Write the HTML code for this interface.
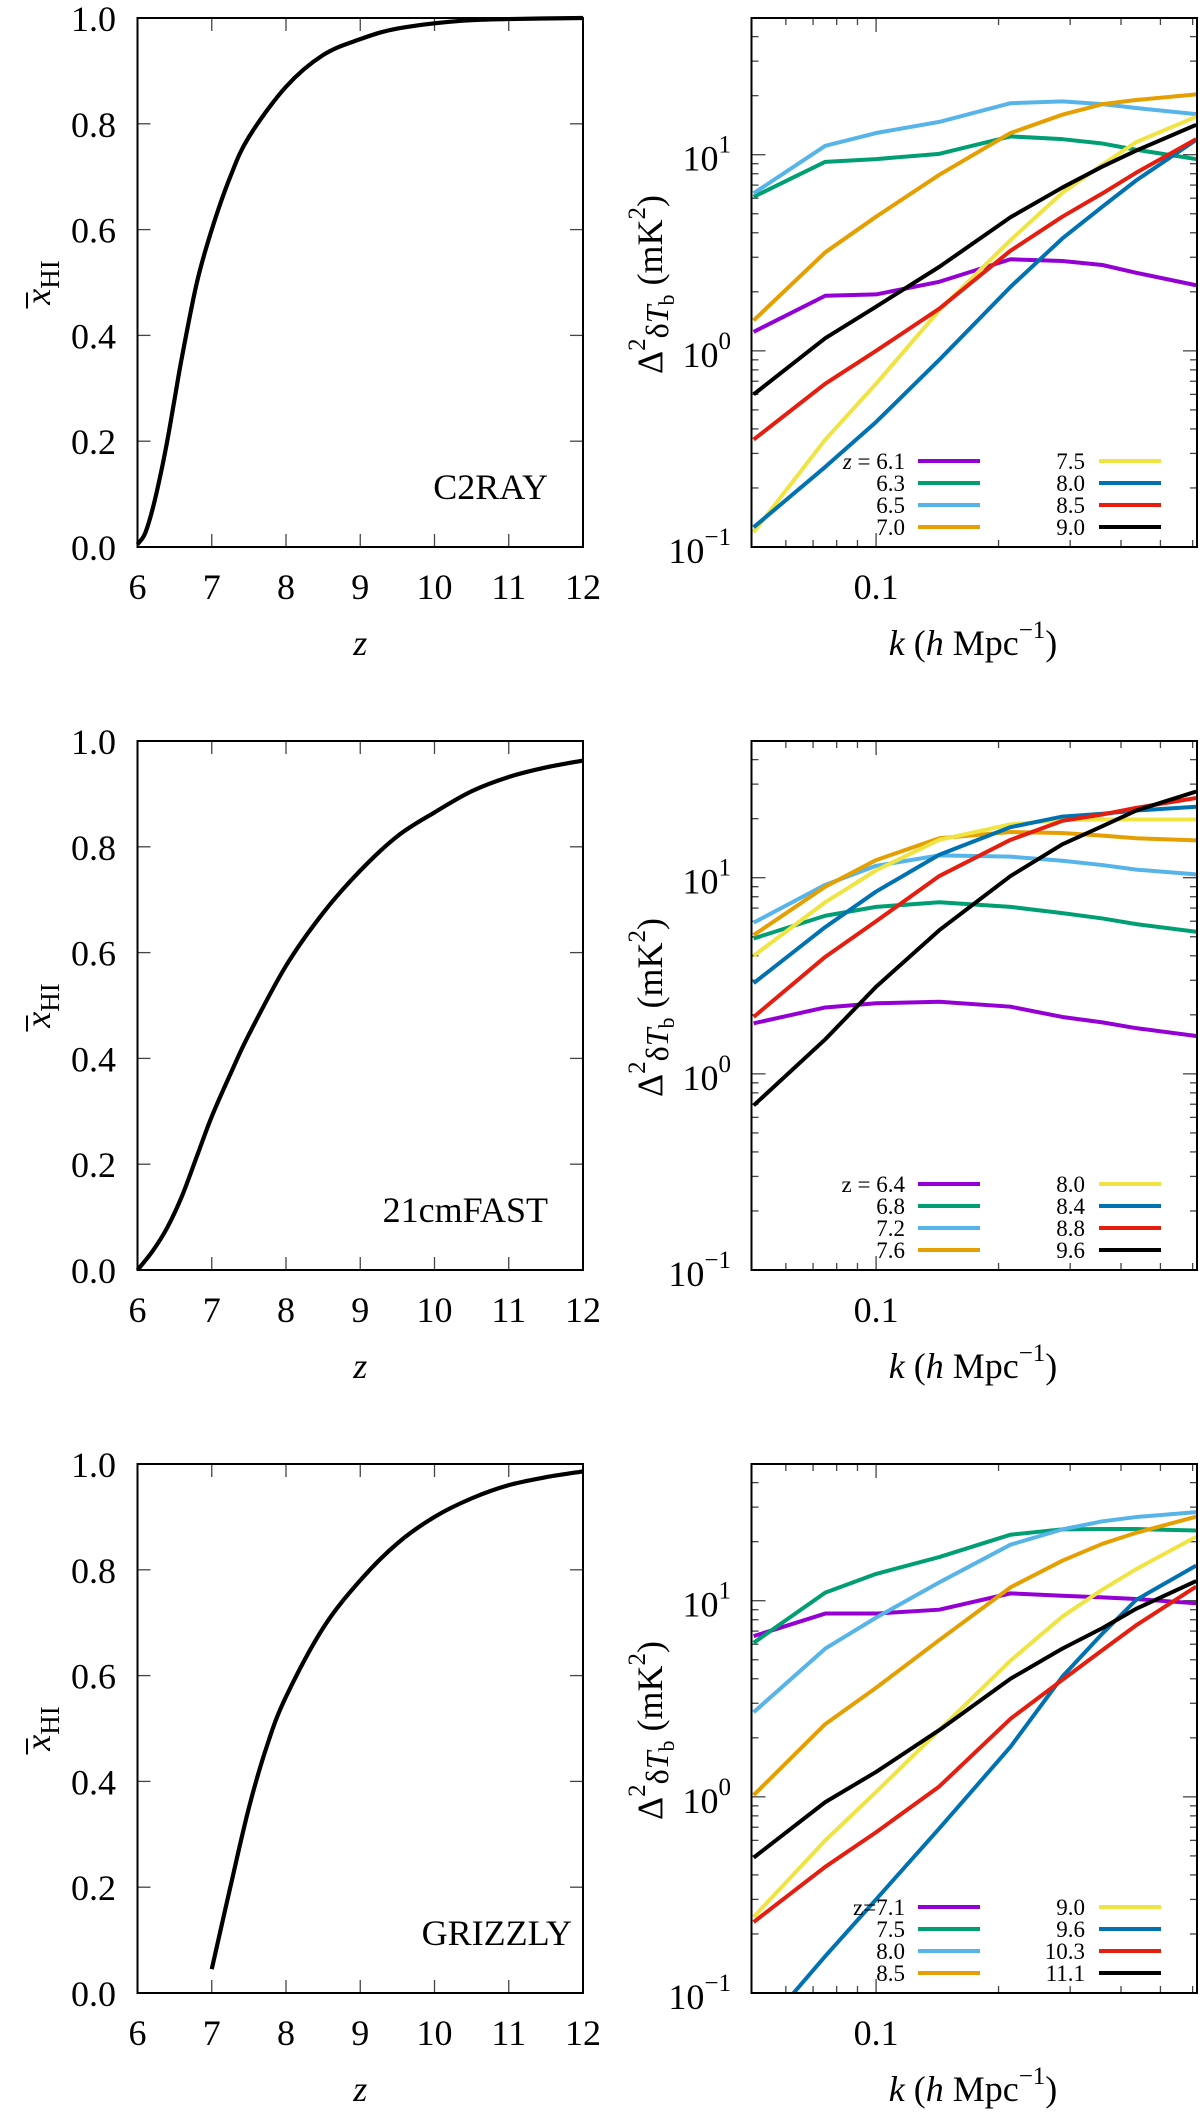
<!DOCTYPE html>
<html><head><meta charset="utf-8"><title>Reionization history and 21-cm power spectra</title>
<style>
html,body{margin:0;padding:0;background:#fff;}
svg{display:block;font-family:"Liberation Serif","DejaVu Serif",serif;}
</style></head>
<body>
<svg id="fig" width="1200" height="2114" viewBox="0 0 1200 2114" xmlns="http://www.w3.org/2000/svg">
<defs>
<clipPath id="clipR0"><rect x="751.5" y="18" width="445.5" height="529"/></clipPath>
<clipPath id="clipR1"><rect x="751.5" y="741" width="445.5" height="529"/></clipPath>
<clipPath id="clipR2"><rect x="751.5" y="1464" width="445.5" height="529"/></clipPath>
</defs>
</svg>
<script>
// ---------- data ----------
const zC2RAY = [6.0, 6.1, 6.2, 6.3, 6.4, 6.5, 6.6, 6.8, 7.0, 7.25, 7.5, 8.0, 8.5, 9.0, 9.5, 10.3, 11.0, 12.0];
const xC2RAY = [0.005, 0.025, 0.07, 0.13, 0.2, 0.28, 0.36, 0.5, 0.6, 0.7, 0.775, 0.87, 0.93, 0.96, 0.98, 0.994, 0.998, 1.0];
const z21cm = [6.0, 6.2, 6.4, 6.6, 6.8, 7.0, 7.25, 7.5, 8.0, 8.5, 9.0, 9.5, 10.0, 10.5, 11.0, 11.5, 12.0];
const x21cm = [0.0, 0.035, 0.08, 0.14, 0.215, 0.29, 0.37, 0.445, 0.575, 0.675, 0.755, 0.82, 0.865, 0.905, 0.932, 0.95, 0.963];
const zGRIZ = [7.0, 7.25, 7.5, 7.75, 8.0, 8.5, 9.0, 9.5, 10.0, 10.5, 11.0, 11.5, 12.0];
const xGRIZ = [0.045, 0.2, 0.35, 0.47, 0.56, 0.69, 0.78, 0.85, 0.9, 0.935, 0.96, 0.975, 0.986];

const kBins = [0.05, 0.075, 0.1, 0.143, 0.214, 0.287, 0.36, 0.436, 0.612];
const seriesColors = ["#9400d3", "#009e73", "#56b4e9", "#e69f00", "#f0e442", "#0072b2", "#e51e10", "#000000"];

const labelsC2RAY = ["6.1", "6.3", "6.5", "7.0", "7.5", "8.0", "8.5", "9.0"];
const psC2RAY_61 = [1.25, 1.91, 1.94, 2.25, 2.93, 2.87, 2.74, 2.5, 2.16];
const psC2RAY_63 = [6.1, 9.2, 9.5, 10.1, 12.4, 12.0, 11.4, 10.6, 9.5];
const psC2RAY_65 = [6.36, 11.1, 12.9, 14.7, 18.3, 18.7, 18.1, 17.3, 16.1];
const psC2RAY_70 = [1.43, 3.18, 4.83, 7.9, 12.9, 16.0, 18.1, 19.0, 20.3];
const psC2RAY_75 = [0.119, 0.353, 0.68, 1.61, 3.67, 6.4, 8.9, 11.6, 15.6];
const psC2RAY_80 = [0.126, 0.256, 0.434, 0.90, 2.12, 3.74, 5.43, 7.4, 11.9];
const psC2RAY_85 = [0.353, 0.68, 1.0, 1.64, 3.24, 4.83, 6.35, 8.1, 12.0];
const psC2RAY_90 = [0.60, 1.16, 1.68, 2.68, 4.8, 6.8, 8.7, 10.5, 14.2];

const labels21cm = ["6.4", "6.8", "7.2", "7.6", "8.0", "8.4", "8.8", "9.6"];
const ps21cm_64 = [1.81, 2.18, 2.29, 2.33, 2.2, 1.95, 1.83, 1.71, 1.56];
const ps21cm_68 = [4.9, 6.4, 7.1, 7.5, 7.1, 6.6, 6.2, 5.8, 5.3];
const ps21cm_72 = [5.9, 9.2, 11.5, 13.0, 12.8, 12.2, 11.6, 11.0, 10.4];
const ps21cm_76 = [5.1, 9.0, 12.3, 15.9, 17.1, 16.9, 16.4, 15.9, 15.5];
const ps21cm_80 = [4.0, 7.5, 10.9, 15.6, 18.7, 19.7, 19.8, 19.8, 19.8];
const ps21cm_84 = [2.9, 5.6, 8.5, 13.1, 18.1, 20.5, 21.2, 22.0, 23.0];
const ps21cm_88 = [1.95, 3.95, 6.0, 10.2, 15.6, 19.5, 21.0, 22.7, 25.5];
const ps21cm_96 = [0.69, 1.5, 2.78, 5.4, 10.2, 14.8, 18.3, 22.0, 27.5];

const labelsGRIZ = ["7.1", "7.5", "8.0", "8.5", "9.0", "9.6", "10.3", "11.1"];
const psGRIZ_71 = [6.6, 8.6, 8.6, 9.0, 10.9, 10.6, 10.4, 10.2, 9.7];
const psGRIZ_75 = [6.1, 11.0, 13.7, 16.7, 21.7, 23.1, 23.2, 23.2, 22.8];
const psGRIZ_80 = [2.7, 5.7, 8.2, 12.4, 19.3, 23.1, 25.4, 26.7, 28.3];
const psGRIZ_85 = [1.02, 2.35, 3.6, 6.3, 11.7, 16.0, 19.5, 22.2, 26.8];
const psGRIZ_90 = [0.244, 0.60, 1.06, 2.19, 4.95, 8.3, 11.4, 14.5, 21.2];
const psGRIZ_96 = [0.058, 0.154, 0.30, 0.69, 1.8, 4.1, 6.8, 10.1, 15.1];
const psGRIZ_103 = [0.23, 0.44, 0.66, 1.13, 2.5, 3.95, 5.6, 7.5, 11.8];
const psGRIZ_111 = [0.49, 0.94, 1.34, 2.19, 4.0, 5.7, 7.25, 9.1, 12.6];

const zTicks = [6, 7, 8, 9, 10, 11, 12];
const xHITicks = [0.0, 0.2, 0.4, 0.6, 0.8, 1.0];
const logTicksY = [-1, 0, 1];
const kMajor = [0.1];
const kMinor = [0.06, 0.07, 0.08, 0.09, 0.2, 0.3, 0.4, 0.5, 0.6];

// ---------- geometry ----------
const NS = "http://www.w3.org/2000/svg";
const svg = document.getElementById("fig");
const rowTop = [18, 741, 1464];
const H = 529;
const LX0 = 137.5, LX1 = 583, RX0 = 751.5, RX1 = 1197;
const kMin = 0.0494, kMax = 0.615, logYmin = -1, logYmax = 1.697;
const FS = 36;

function el(tag, attrs, parent) {
  const e = document.createElementNS(NS, tag);
  for (const k in attrs) e.setAttribute(k, attrs[k]);
  (parent || svg).appendChild(e);
  return e;
}
function zx(z) { return LX0 + (z - 6) / 6 * (LX1 - LX0); }
function xy(v, r) { return rowTop[r] + H - v * H; }
function kx(k) { return RX0 + (Math.log10(k) - Math.log10(kMin)) / (Math.log10(kMax) - Math.log10(kMin)) * (RX1 - RX0); }
function py(v, r) { return rowTop[r] + H - (Math.log10(v) - logYmin) / (logYmax - logYmin) * H; }

function smoothPath(pts) {
  let d = "M" + pts[0][0].toFixed(2) + "," + pts[0][1].toFixed(2);
  for (let i = 0; i < pts.length - 1; i++) {
    const p0 = pts[Math.max(0, i - 1)], p1 = pts[i], p2 = pts[i + 1], p3 = pts[Math.min(pts.length - 1, i + 2)];
    const c1 = [p1[0] + (p2[0] - p0[0]) / 6, p1[1] + (p2[1] - p0[1]) / 6];
    const c2 = [p2[0] - (p3[0] - p1[0]) / 6, p2[1] - (p3[1] - p1[1]) / 6];
    d += " C" + c1[0].toFixed(2) + "," + c1[1].toFixed(2) + " " + c2[0].toFixed(2) + "," + c2[1].toFixed(2) + " " + p2[0].toFixed(2) + "," + p2[1].toFixed(2);
  }
  return d;
}

// ---------- left panels ----------
const leftData = [[zC2RAY, xC2RAY, "C2RAY"], [z21cm, x21cm, "21cmFAST"], [zGRIZ, xGRIZ, "GRIZZLY"]];
leftData.forEach((ld, r) => {
  const T = rowTop[r], B = T + H;
  const g = el("g", {});
  
  
  zTicks.forEach(z => {
    const x = zx(z);
    if (z > 6 && z < 12) {
      el("line", {x1: x, y1: B, x2: x, y2: B - 13, stroke: "#444", "stroke-width": 1.3}, g);
      el("line", {x1: x, y1: T, x2: x, y2: T + 13, stroke: "#444", "stroke-width": 1.3}, g);
    }
    const t = el("text", {x: x, y: B + 52, "font-size": FS, "text-anchor": "middle"}, g);
    t.textContent = String(z);
    
    
  });
  xHITicks.forEach(v => {
    const y = xy(v, r);
    if (v > 0 && v < 1) {
      el("line", {x1: LX0, y1: y, x2: LX0 + 13, y2: y, stroke: "#444", "stroke-width": 1.3}, g);
      el("line", {x1: LX1, y1: y, x2: LX1 - 13, y2: y, stroke: "#444", "stroke-width": 1.3}, g);
    }
    const t = el("text", {x: 116, y: y + 13, "font-size": FS, "text-anchor": "end"}, g);
    t.textContent = v.toFixed(1);
    
    
  });
  const pts = ld[0].map((z, i) => [zx(z), xy(ld[1][i], r)]);
  const c = el("path", {d: smoothPath(pts), fill: "none", stroke: "#000", "stroke-width": 4.2, "stroke-linejoin": "round"}, g);
  
  
  const f = el("rect", {x: LX0, y: T, width: LX1 - LX0, height: H, fill: "none", stroke: "#000", "stroke-width": 2}, g);
  
  
  const lbl = el("text", {x: r === 2 ? 572 : 548, y: B - 48, "font-size": FS, "text-anchor": "end"}, g);
  lbl.textContent = ld[2];
  
  
  const xt = el("text", {x: zx(9), y: B + 108, "font-size": FS, "font-style": "italic", "text-anchor": "middle"}, g);
  xt.textContent = "z";
  
  
  const yg = el("g", {transform: "translate(50," + (T + H / 2) + ") rotate(-90)"}, g);
  
  
  const yt = el("text", {x: 0, y: 0, "font-size": FS, "text-anchor": "middle"}, yg);
  const xs = el("tspan", {"font-style": "italic"}, yt);
  xs.textContent = "x";
  const hs = el("tspan", {dy: 9, "font-size": 27}, yt);
  hs.textContent = "HI";
  el("line", {x1: -26, y1: -23, x2: -10, y2: -23, stroke: "#000", "stroke-width": 2}, yg);
});

// ---------- right panels ----------
const rightData = [
  [[psC2RAY_61, psC2RAY_63, psC2RAY_65, psC2RAY_70, psC2RAY_75, psC2RAY_80, psC2RAY_85, psC2RAY_90], labelsC2RAY, "z = ", true],
  [[ps21cm_64, ps21cm_68, ps21cm_72, ps21cm_76, ps21cm_80, ps21cm_84, ps21cm_88, ps21cm_96], labels21cm, "z = ", false],
  [[psGRIZ_71, psGRIZ_75, psGRIZ_80, psGRIZ_85, psGRIZ_90, psGRIZ_96, psGRIZ_103, psGRIZ_111], labelsGRIZ, "z=", false]
];
rightData.forEach((rd, r) => {
  const T = rowTop[r], B = T + H;
  const g = el("g", {});
  
  
  for (let dec = -1; dec <= 1; dec++) {
    for (let m = 1; m <= 9; m++) {
      const v = m * Math.pow(10, dec);
      const lv = Math.log10(v);
      if (lv <= logYmin + 1e-6 || lv >= logYmax) continue;
      const y = py(v, r), len = m === 1 ? 14 : 7;
      el("line", {x1: RX0, y1: y, x2: RX0 + len, y2: y, stroke: "#444", "stroke-width": 1.3}, g);
      el("line", {x1: RX1, y1: y, x2: RX1 - len, y2: y, stroke: "#444", "stroke-width": 1.3}, g);
    }
  }
  logTicksY.forEach(p => {
    const y = py(Math.pow(10, p), r);
    const t = el("text", {x: 731, y: y + 16, "font-size": FS, "text-anchor": "end"}, g);
    
    
    const a = el("tspan", {}, t); a.textContent = "10";
    const b = el("tspan", {dy: -18, "font-size": 25}, t); b.textContent = p < 0 ? "\u2212" + (-p) : String(p);
  });
  kMajor.forEach(k => {
    const x = kx(k);
    el("line", {x1: x, y1: B, x2: x, y2: B - 14, stroke: "#444", "stroke-width": 1.3}, g);
    el("line", {x1: x, y1: T, x2: x, y2: T + 14, stroke: "#444", "stroke-width": 1.3}, g);
    const t = el("text", {x: x, y: B + 52, "font-size": FS, "text-anchor": "middle"}, g);
    t.textContent = "0.1";
    
    
  });
  kMinor.forEach(k => {
    const x = kx(k);
    el("line", {x1: x, y1: B, x2: x, y2: B - 7, stroke: "#444", "stroke-width": 1.3}, g);
    el("line", {x1: x, y1: T, x2: x, y2: T + 7, stroke: "#444", "stroke-width": 1.3}, g);
  });
  const sg = el("g", {"clip-path": "url(#clipR" + r + ")"}, g);
  rd[0].forEach((vals, si) => {
    const d = vals.map((v, i) => (i ? "L" : "M") + kx(kBins[i]).toFixed(2) + "," + py(v, r).toFixed(2)).join(" ");
    const p = el("path", {d: d, fill: "none", stroke: seriesColors[si], "stroke-width": 4, "stroke-linejoin": "round"}, sg);
    
    
  });
  const f = el("rect", {x: RX0, y: T, width: RX1 - RX0, height: H, fill: "none", stroke: "#000", "stroke-width": 2}, g);
  
  
  const rowOff = [86, 64, 42, 20];
  rd[1].forEach((lab, i) => {
    const col = i < 4 ? 0 : 1, row = i % 4;
    const y = B - rowOff[row];
    const tx = col ? 1085 : 905, lx = col ? 1099 : 918;
    const e = el("g", {}, g);
    
    
    const t = el("text", {x: tx, y: y + 8, "font-size": 23, "text-anchor": "end"}, e);
    if (i === 0) {
      const zt = el("tspan", {"font-style": rd[3] ? "italic" : "normal"}, t); zt.textContent = "z";
      const rest = el("tspan", {}, t); rest.textContent = rd[2].slice(1) + lab;
    } else t.textContent = lab;
    el("line", {x1: lx, y1: y, x2: lx + 62, y2: y, stroke: seriesColors[i], "stroke-width": 4}, e);
  });
  const xt = el("text", {x: 973, y: B + 108, "font-size": FS, "text-anchor": "middle"}, g);
  
  
  let s = el("tspan", {"font-style": "italic"}, xt); s.textContent = "k";
  s = el("tspan", {}, xt); s.textContent = " (";
  s = el("tspan", {"font-style": "italic"}, xt); s.textContent = "h";
  s = el("tspan", {}, xt); s.textContent = " Mpc";
  s = el("tspan", {dy: -17, "font-size": 25}, xt); s.textContent = "\u22121";
  s = el("tspan", {dy: 17}, xt); s.textContent = ")";
  const yt = el("text", {transform: "translate(662," + (T + H / 2 + 2) + ") rotate(-90)", "font-size": FS, "text-anchor": "middle"}, g);
  
  
  s = el("tspan", {}, yt); s.textContent = "\u0394";
  s = el("tspan", {dy: -17, "font-size": 25}, yt); s.textContent = "2";
  s = el("tspan", {dy: 23, "font-size": 32}, yt); s.textContent = "\u03b4";
  s = el("tspan", {"font-size": 32, "font-style": "italic"}, yt); s.textContent = "T";
  s = el("tspan", {dy: 6, "font-size": 22}, yt); s.textContent = "b";
  s = el("tspan", {dy: -12}, yt); s.textContent = " (mK";
  s = el("tspan", {dy: -17, "font-size": 25}, yt); s.textContent = "2";
  s = el("tspan", {dy: 17}, yt); s.textContent = ")";
});
</script>
</body></html>
